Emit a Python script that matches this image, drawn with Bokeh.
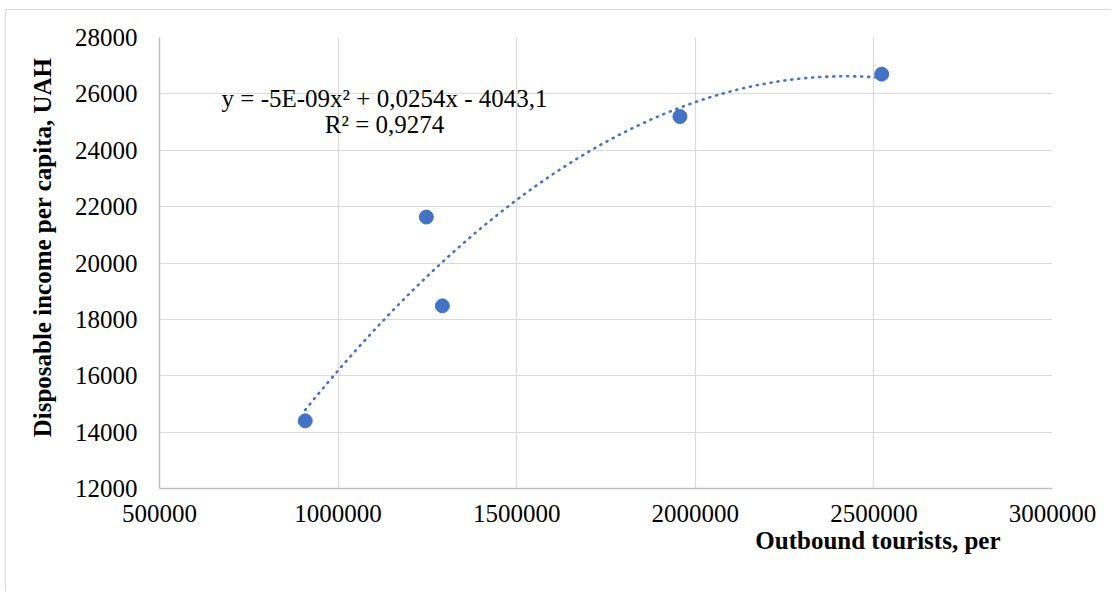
import numpy as np
from bokeh.plotting import figure
from bokeh.models import FixedTicker, Label, ColumnDataSource, Title, CustomJSTickFormatter
from bokeh.embed import file_html
from bokeh.resources import INLINE

# ---- data ----
outbound_tourists = [908000, 1247000, 1292000, 1957000, 2522000]
disposable_income = [14400, 21630, 18480, 25195, 26700]
x_ticks = [500000, 1000000, 1500000, 2000000, 2500000, 3000000]
x_tick_labels = ["500000", "1000000", "1500000", "2000000", "2500000", "3000000"]
y_ticks = [12000, 14000, 16000, 18000, 20000, 22000, 24000, 26000, 28000]
y_tick_labels = ["12000", "14000", "16000", "18000", "20000", "22000", "24000", "26000", "28000"]
equation_text = "y = -5E-09x\u00b2 + 0,0254x - 4043,1"
r2_text = "R\u00b2 = 0,9274"
x_title = "Outbound tourists, per"
y_title = "Disposable income per capita, UAH"

FONT = "Liberation Serif"
BLUE = "#4472C4"

p = figure(width=1106, height=582, output_backend="svg", toolbar_location=None,
           title=None, x_range=(500000, 3000000), y_range=(12000, 28000),
           min_border_left=153, min_border_right=60, min_border_top=27, min_border_bottom=104,
           margin=(9, 0, 0, 5),
           styles={"border-top": "1px solid #d9d9d9", "border-left": "1px solid #d9d9d9"})
p.outline_line_color = None
p.background_fill_color = "white"
p.border_fill_color = "white"

fmt_code = """
const i = ticks_in.indexOf(tick);
return i >= 0 ? labels[i] : String(tick);
"""
p.xaxis.ticker = FixedTicker(ticks=x_ticks)
p.yaxis.ticker = FixedTicker(ticks=y_ticks)
p.xaxis.formatter = CustomJSTickFormatter(args=dict(ticks_in=x_ticks, labels=x_tick_labels), code=fmt_code)
p.yaxis.formatter = CustomJSTickFormatter(args=dict(ticks_in=y_ticks, labels=y_tick_labels), code=fmt_code)
for ax in p.axis:
    ax.major_label_text_font = FONT
    ax.major_label_text_font_size = "25px"
    ax.major_label_text_color = "#000000"
    ax.major_tick_line_color = None
    ax.minor_tick_line_color = None
    ax.axis_line_color = "#bfbfbf"
    ax.axis_line_width = 1.5
p.xaxis.major_label_standoff = 10
p.yaxis.major_label_standoff = 16

p.xgrid.ticker = FixedTicker(ticks=x_ticks)
p.ygrid.ticker = FixedTicker(ticks=y_ticks)
for g in (p.xgrid, p.ygrid):
    g.grid_line_color = "#d9d9d9"
    g.grid_line_width = 1.2

# polynomial trendline (order 2) fitted to the data
coef = np.polyfit(outbound_tourists, disposable_income, 2)
xs = np.linspace(min(outbound_tourists), max(outbound_tourists), 300)
ys = np.polyval(coef, xs)
p.line(xs, ys, line_color=BLUE, line_width=2.6, line_dash="1 6", line_cap="round")

src = ColumnDataSource(dict(x=outbound_tourists, y=disposable_income))
p.scatter("x", "y", source=src, size=14, fill_color=BLUE, line_color=BLUE)

# trendline equation
p.add_layout(Label(x=1129900, y=25836, text=equation_text, text_font=FONT,
                   text_font_size="25px", text_align="center", text_baseline="alphabetic",
                   text_color="#000000"))
p.add_layout(Label(x=1129900, y=24914, text=r2_text, text_font=FONT,
                   text_font_size="25px", text_align="center", text_baseline="alphabetic",
                   text_color="#000000"))

# axis titles
p.add_layout(Title(text=x_title, align="right", offset=52, text_font=FONT,
                   text_font_size="25px", text_font_style="bold", text_color="#000000",
                   standoff=0), "below")
p.add_layout(Title(text=y_title, align="right", offset=20, text_font=FONT,
                   text_font_size="25px", text_font_style="bold", text_color="#000000",
                   standoff=32), "left")

open("out.html", "w").write(file_html(p, INLINE))
